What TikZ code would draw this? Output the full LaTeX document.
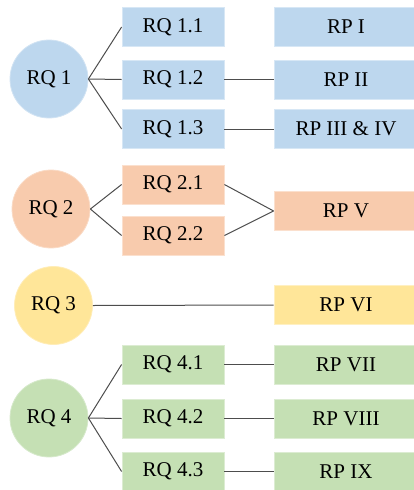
\documentclass[tikz,border=0pt]{standalone}
\usepackage{fontspec}
\setmainfont{Liberation Serif}
\definecolor{qblue}{HTML}{BDD7EE}
\definecolor{qorange}{HTML}{F8CBAD}
\definecolor{qyellow}{HTML}{FFE699}
\definecolor{qgreen}{HTML}{C5E0B4}
\definecolor{linkgray}{HTML}{4D4D4D}
\begin{document}
\begin{tikzpicture}[x=1pt,y=-1pt,
  every node/.style={font=\fontsize{21}{23}\selectfont, inner sep=0pt},
  rqcircle/.style={circle, fill=#1, draw=#1!70!white, line width=0.8pt, minimum size=78pt},
  rqbox/.style={rectangle, fill=#1, draw=#1!60!white, line width=0.8pt, minimum width=102pt, minimum height=39pt},
  rpbox/.style={rectangle, fill=#1, draw=#1!60!white, line width=0.8pt, minimum width=144pt, minimum height=39pt},
  link/.style={draw=linkgray, line width=1pt}]
\useasboundingbox (0,0) rectangle (413,490);

% Research question 1
\node[rqcircle=qblue] (rq1) at (49,79) {RQ 1};
\node[rqbox=qblue] (rq11) at (173,27) {RQ 1.1};
\node[rqbox=qblue] (rq12) at (173,79.5) {RQ 1.2};
\node[rqbox=qblue] (rq13) at (173,129) {RQ 1.3};
\node[rpbox=qblue] (rp1) at (346,27) {RP I};
\node[rpbox=qblue] (rp2) at (346,79.5) {RP II};
\node[rpbox=qblue] (rp34) at (346,129) {RP III \& IV};
\draw[link] (rq1.east) -- (rq11.west);
\draw[link] (rq1.east) -- (rq12.west);
\draw[link] (rq1.east) -- (rq13.west);
\draw[link] (rq12.east) -- (rp2.west);
\draw[link] (rq13.east) -- (rp34.west);

% Research question 2
\node[rqcircle=qorange] (rq2) at (51,209) {RQ 2};
\node[rqbox=qorange] (rq21) at (173,184.5) {RQ 2.1};
\node[rqbox=qorange] (rq22) at (173,235.5) {RQ 2.2};
\node[rpbox=qorange] (rp5) at (346,211) {RP V};
\draw[link] (rq2.east) -- (rq21.west);
\draw[link] (rq2.east) -- (rq22.west);
\draw[link] (rq21.east) -- (rp5.west);
\draw[link] (rq22.east) -- (rp5.west);

% Research question 3
\node[rqcircle=qyellow] (rq3) at (53.5,305.5) {RQ 3};
\node[rpbox=qyellow] (rp6) at (346,305) {RP VI};
\draw[link] (rq3.east) -- (rp6.west);

% Research question 4
\node[rqcircle=qgreen] (rq4) at (49,418) {RQ 4};
\node[rqbox=qgreen] (rq41) at (173,364.5) {RQ 4.1};
\node[rqbox=qgreen] (rq42) at (173,418.5) {RQ 4.2};
\node[rqbox=qgreen] (rq43) at (173,471.5) {RQ 4.3};
\node[rpbox=qgreen] (rp7) at (346,364.5) {RP VII};
\node[rpbox=qgreen] (rp8) at (346,418.5) {RP VIII};
\node[rpbox=qgreen] (rp9) at (346,471.5) {RP IX};
\draw[link] (rq4.east) -- (rq41.west);
\draw[link] (rq4.east) -- (rq42.west);
\draw[link] (rq4.east) -- (rq43.west);
\draw[link] (rq41.east) -- (rp7.west);
\draw[link] (rq42.east) -- (rp8.west);
\draw[link] (rq43.east) -- (rp9.west);
\end{tikzpicture}
\end{document}
